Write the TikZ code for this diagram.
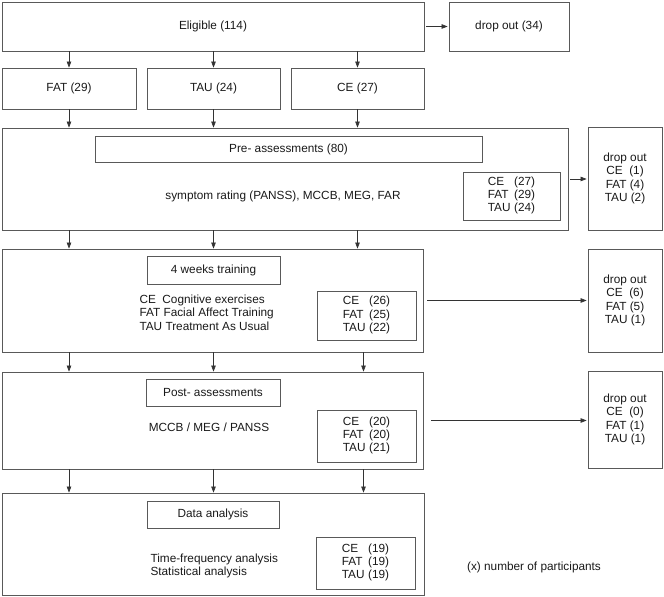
\documentclass[tikz,border=0pt]{standalone}
\usepackage{fontspec}
\setmainfont{Liberation Sans}
\usepackage{tikz}
\usetikzlibrary{positioning, arrows.meta, calc}
\newcommand{\groupcounts}[3]{% counts per group, stacked
    \begin{tabular}{@{}l@{\hspace{0.3em}}l@{}}CE & (#1)\\ FAT & (#2)\\ TAU & (#3)\end{tabular}}
\tikzset{
    every node/.style={ % Text of every box
        font=\fontsize{11.8}{13.3}\selectfont,
        text=black!90
    },
    box/.style={ % Sets the properties for each box
        draw=black!65,
        line width=0.8pt,
        inner sep=0pt
    },
    flow/.style={ % Arrows between the boxes
        draw=black!80,
        line width=0.7pt,
        -{Triangle[length=6pt,width=4.5pt]}
    }
}

\begin{document}
\begin{tikzpicture}[x=1pt, y=1pt]
    \useasboundingbox (0,0) rectangle (664,597);
    % randomisation
    \node[box, minimum width=422pt, minimum height=49pt] (elig) at (213,570.5) {Eligible (114)};
    \node[box, minimum width=120pt, minimum height=49pt] (drop0) at (509,570.5) {drop out (34)};
    \node[box, minimum width=134pt, minimum height=41pt] (fat) at (69,508.5) {FAT (29)};
    \node[box, minimum width=133pt, minimum height=41pt] (tau) at (213.5,508.5) {TAU (24)};
    \node[box, minimum width=133pt, minimum height=41pt] (ce) at (357.5,508.5) {CE (27)};

    % pre
    \node[box, minimum width=566pt, minimum height=102pt] (pre) at (285,418) {};
    \node[box, minimum width=387pt, minimum height=26pt] (preT) at (288.5,448) {Pre- assessments (80)};
    \node (preTxt) at (283,401) {symptom rating (PANSS), MCCB, MEG, FAR};
    \node[box, minimum width=97pt, minimum height=48pt] (preS) at (511.5,401) {\groupcounts{27}{29}{24}};
    \node[box, minimum width=74pt, minimum height=103pt, align=center] (drop1) at (625,418.5) {drop out\\CE\ \ (1)\\FAT (4)\\TAU (2)};

    % training
    \node[box, minimum width=421pt, minimum height=103pt] (train) at (212.5,296.5) {};
    \node[box, minimum width=133pt, minimum height=28pt] (trainT) at (213.5,327) {4 weeks training};
    \node[anchor=west, align=left] (trainTxt) at (136,284.5) {CE\ \ Cognitive exercises\\FAT Facial Affect Training\\TAU Treatment As Usual};
    \node[box, minimum width=99pt, minimum height=49pt] (trainS) at (366.5,281.5) {\groupcounts{26}{25}{22}};
    \node[box, minimum width=74pt, minimum height=103pt, align=center] (drop2) at (625,296.5) {drop out\\CE\ \ (6)\\FAT (5)\\TAU (1)};

    % post
    \node[box, minimum width=421pt, minimum height=97pt] (post) at (212.5,176.5) {};
    \node[box, minimum width=134pt, minimum height=27pt] (postT) at (213,204.5) {Post- assessments};
    \node (postTxt) at (209,170) {MCCB / MEG / PANSS};
    \node[box, minimum width=99pt, minimum height=52pt] (postS) at (366.5,161) {\groupcounts{20}{20}{21}};
    \node[box, minimum width=74pt, minimum height=97pt, align=center] (drop3) at (625,177.5) {drop out\\CE\ \ (0)\\FAT (1)\\TAU (1)};

    % analysis
    \node[box, minimum width=422pt, minimum height=102pt] (data) at (213,53) {};
    \node[box, minimum width=132pt, minimum height=27pt] (dataT) at (213,82.5) {Data analysis};
    \node[anchor=west, align=left] (dataTxt) at (147,31) {Time-frequency analysis\\Statistical analysis};
    \node[box, minimum width=99pt, minimum height=52pt] (dataS) at (365.5,34) {\groupcounts{19}{19}{19}};
    \node (note) at (534,30) {(x) number of participants};

    \foreach \col in {fat, tau, ce} {
        \draw[flow] (elig.south -| \col) -- (\col);
        \draw[flow] (\col) -- (pre.north -| \col);
        \draw[flow] (pre.south -| \col) -- (train.north -| \col);
    }
    % lower rows, third column sits a little further right
    \foreach \col/\dx in {fat/0, tau/0, ce/6} {
        \draw[flow] ($(train.south -| \col)+(\dx,0)$) -- ($(post.north -| \col)+(\dx,0)$);
        \draw[flow] ($(post.south -| \col)+(\dx,0)$) -- ($(data.north -| \col)+(\dx,0)$);
    }
    \draw[flow, shorten <=2pt, shorten >=1pt] (elig) -- (drop0);
    \draw[flow, shorten <=2pt, shorten >=1pt] (pre) -- (pre.east -| drop1.west);
    \draw[flow, shorten <=4pt, shorten >=1pt] (train) -- (train.east -| drop2.west);
    \draw[flow, shorten <=8pt, shorten >=1pt] (post.east) -- (post.east -| drop3.west);
\end{tikzpicture}
\end{document}
